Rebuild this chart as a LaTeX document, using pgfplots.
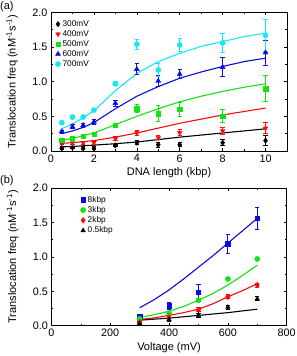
\documentclass[border=0pt]{standalone}
\usepackage{pgfplots}
\pgfplotsset{compat=1.18}
\usepackage{fontspec}
\setmainfont{Liberation Sans}
\definecolor{cgreen}{RGB}{20,225,20}
\definecolor{cblue}{RGB}{10,10,225}
\definecolor{ccyan}{RGB}{20,230,245}
\definecolor{cred}{RGB}{250,10,10}
\pgfplotsset{
  myaxis/.style={
    scale only axis,
    tick align=inside,
    major tick length=3pt,
    minor tick length=2pt,
    tick style={black,line width=0.6pt},
    axis line style={line width=0.7pt},
    /pgf/number format/assume math mode=true,
    tick label style={font=\fontsize{10.8}{12}\selectfont},
    label style={font=\fontsize{11}{12}\selectfont},
    ymin=0, ymax=2,
    ytick={0,0.5,1,1.5,2},
    minor y tick num=1,
    yticklabel style={/pgf/number format/.cd,fixed,fixed zerofill,precision=1},
    ylabel={Translocation freq (nM\textsuperscript{-1}s\textsuperscript{-1})},
    ylabel style={at={(axis description cs:-0.125,0.5)},anchor=south},
    legend style={draw=none,fill=none,font=\fontsize{8.3}{9}\selectfont,
      legend cell align=left,row sep=-1.3pt,inner sep=1pt},
    legend image code/.code={\draw[mark repeat=2,mark phase=2] plot coordinates {(0cm,0cm)(0.15cm,0cm)(0.3cm,0cm)};},
  },
  fit/.style={no marks,line width=1.1pt,forget plot},
  dat/.style={only marks,#1,
    error bars/y dir=both,error bars/y explicit,
    error bars/error bar style={#1,line width=0.9pt},
    error bars/error mark options={#1,rotate=90,mark size=2.2pt,line width=0.9pt}},
}
\begin{document}
\begin{tikzpicture}
\useasboundingbox (0pt,0pt) rectangle (297pt,356pt);
\node[anchor=north west,inner sep=0pt,font=\fontsize{11}{12}\selectfont] at (0pt,355pt) {(a)};
\node[anchor=north west,inner sep=0pt,font=\fontsize{11}{12}\selectfont] at (0pt,181pt) {(b)};
% ---------- panel (a)
\begin{axis}[myaxis,
  at={(51pt,205pt)},anchor=south west,
  width=236pt, height=138.6pt,
  xmin=0, xmax=11,
  xtick={0,2,4,6,8,10},
  minor x tick num=1,
  xlabel={DNA length (kbp)},
  xlabel style={at={(axis description cs:0.5,-0.095)},anchor=north},
  legend style={at={(axis cs:0.15,1.93)},anchor=north west},
]
% fits
\addplot[fit,black] coordinates {(0.5,0.06)(1,0.065)(2,0.085)(3,0.105)(4,0.13)(5,0.165)(6,0.20)(7,0.23)(8,0.26)(9,0.29)(10,0.32)};
\addplot[fit,cred] coordinates {(0.5,0.11)(1,0.12)(2,0.15)(3,0.20)(4,0.26)(5,0.33)(6,0.40)(7,0.46)(8,0.52)(9,0.57)(10,0.62)};
\addplot[fit,cgreen] coordinates {(0.5,0.16)(1,0.18)(1.5,0.22)(2,0.26)(3,0.38)(4,0.50)(5,0.61)(6,0.71)(7,0.79)(8,0.86)(9,0.92)(10,0.97)};
\addplot[fit,cblue] coordinates {(0.5,0.25)(1,0.29)(1.5,0.34)(2,0.41)(3,0.61)(4,0.79)(5,0.93)(6,1.05)(7,1.14)(8,1.22)(9,1.29)(10,1.34)};
\addplot[fit,ccyan] coordinates {(0.5,0.32)(1,0.39)(1.5,0.48)(2,0.58)(3,0.87)(4,1.12)(5,1.29)(6,1.41)(7,1.51)(8,1.58)(9,1.65)(10,1.70)};
% data
\addplot[dat=black,mark=diamond*,mark size=2.7pt]
 coordinates {(0.5,0.04)+-(0,0.02)(1,0.05)+-(0,0.02)(1.5,0.04)+-(0,0.02)(2,0.04)+-(0,0.02)(3,0.08)+-(0,0.02)(4,0.12)+-(0,0.03)(5,0.09)+-(0,0.04)(6,0.09)+-(0,0.03)(8,0.12)+-(0,0.04)(10,0.15)+-(0,0.07)};
\addlegendentry{300mV}
\addplot[dat=cred,mark=triangle*,mark options={rotate=180},mark size=2.7pt]
 coordinates {(0.5,0.11)+-(0,0.02)(1,0.12)+-(0,0.02)(1.5,0.12)+-(0,0.02)(2,0.12)+-(0,0.02)(3,0.18)+-(0,0.03)(4,0.26)+-(0,0.03)(5,0.19)+-(0,0.03)(6,0.265)+-(0,0.045)(8,0.29)+-(0,0.05)(10,0.33)+-(0,0.08)};
\addlegendentry{400mV}
\addplot[dat=cgreen,mark=square*,mark size=2.2pt]
 coordinates {(0.5,0.16)+-(0,0.02)(1,0.18)+-(0,0.02)(1.5,0.21)+-(0,0.02)(2,0.24)+-(0,0.02)(3,0.375)+-(0,0.02)(4,0.61)+-(0,0.06)(5,0.54)+-(0,0.12)(6,0.60)+-(0,0.10)(8,0.505)+-(0,0.09)(10,0.90)+-(0,0.19)};
\addlegendentry{500mV}
\addplot[dat=cblue,mark=triangle*,mark size=2.9pt]
 coordinates {(0.5,0.28)+-(0,0.02)(1,0.35)+-(0,0.03)(1.5,0.37)+-(0,0.03)(2,0.42)+-(0,0.03)(3,0.69)+-(0,0.04)(4,1.18)+-(0,0.08)(5,1.01)+-(0,0.08)(6,1.11)+-(0,0.06)(8,1.21)+-(0,0.14)(10,1.42)+-(0,0.18)};
\addlegendentry{600mV}
\addplot[dat=ccyan,mark=*,mark size=2.6pt]
 coordinates {(0.5,0.41)+-(0,0.02)(1,0.49)+-(0,0.02)(1.5,0.49)+-(0,0.02)(2,0.59)+-(0,0.02)(3,0.97)+-(0,0.03)(4,1.54)+-(0,0.07)(5,1.17)+-(0,0.10)(6,1.53)+-(0,0.10)(8,1.56)+-(0,0.14)(10,1.67)+-(0,0.23)};
\addlegendentry{700mV}
\end{axis}
% ---------- panel (b)
\begin{axis}[myaxis,
  at={(51.4pt,30.3pt)},anchor=south west,
  width=235.3pt, height=137.6pt,
  xmin=0, xmax=800,
  xtick={0,200,400,600,800},
  minor x tick num=1,
  xlabel={Voltage (mV)},
  xlabel style={at={(axis description cs:0.5,-0.095)},anchor=north},
  legend style={at={(axis cs:95,1.93)},anchor=north west},
]
\addplot[fit,cblue] coordinates {(300,0.26)(350,0.38)(400,0.52)(450,0.68)(500,0.85)(550,1.02)(600,1.20)(650,1.38)(700,1.56)};
\addplot[fit,cgreen] coordinates {(300,0.12)(350,0.16)(400,0.21)(450,0.28)(500,0.37)(550,0.47)(600,0.59)(650,0.73)(700,0.88)};
\addplot[fit,cred] coordinates {(300,0.09)(350,0.115)(400,0.15)(450,0.19)(500,0.24)(550,0.32)(600,0.42)(650,0.51)(700,0.61)};
\addplot[fit,black] coordinates {(300,0.08)(350,0.095)(400,0.11)(450,0.13)(500,0.15)(550,0.17)(600,0.19)(650,0.215)(700,0.24)};
\addplot[dat=cblue,mark=square*,mark size=2.2pt]
 coordinates {(300,0.13)+-(0,0.03)(400,0.29)+-(0,0.05)(500,0.49)+-(0,0.11)(600,1.19)+-(0,0.14)(700,1.56)+-(0,0.16)};
\addlegendentry{8kbp}
\addplot[dat=cgreen,mark=*,mark size=2.6pt]
 coordinates {(300,0.10)+-(0,0.02)(400,0.18)+-(0,0.02)(500,0.37)+-(0,0.02)(600,0.68)+-(0,0.02)(700,0.97)+-(0,0.02)};
\addlegendentry{3kbp}
\addplot[dat=cred,mark=diamond*,mark size=2.9pt]
 coordinates {(300,0.05)+-(0,0.02)(400,0.12)+-(0,0.02)(500,0.23)+-(0,0.03)(600,0.42)+-(0,0.03)(700,0.59)+-(0,0.03)};
\addlegendentry{2kbp}
\addplot[dat=black,mark=triangle*,mark size=2.6pt]
 coordinates {(300,0.03)+-(0,0.03)(400,0.09)+-(0,0.03)(500,0.155)+-(0,0.03)(600,0.27)+-(0,0.03)(700,0.39)+-(0,0.03)};
\addlegendentry{0.5kbp}
\end{axis}
\end{tikzpicture}
\end{document}
